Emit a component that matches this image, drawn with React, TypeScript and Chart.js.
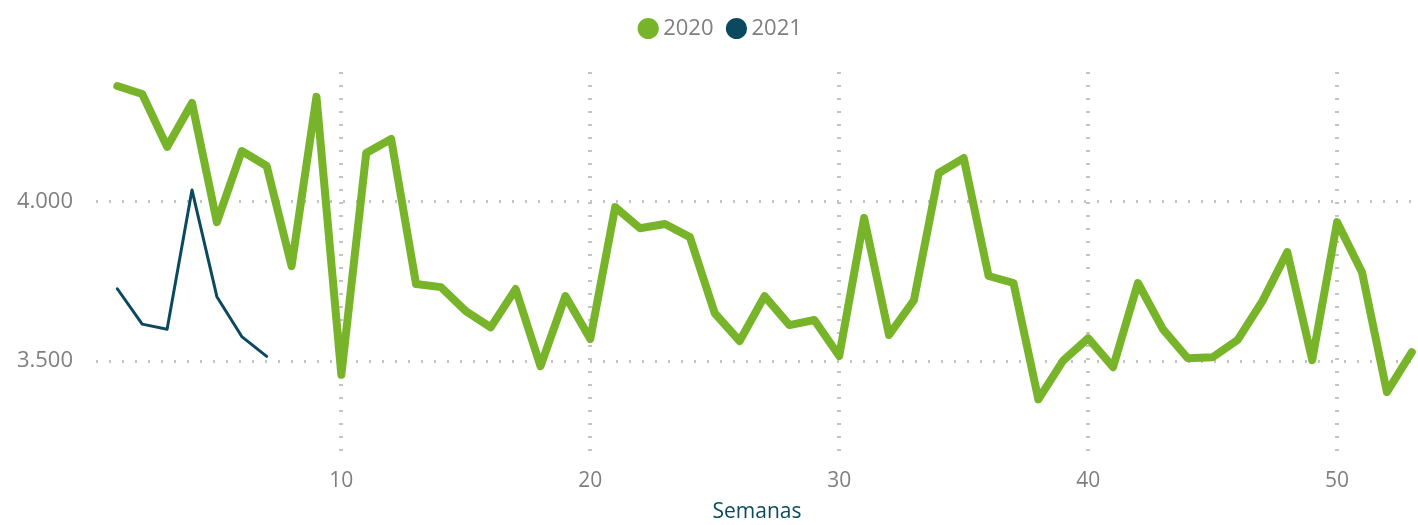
import { useEffect, useRef } from "react";
import { Chart, registerables } from "chart.js";

Chart.register(...registerables);

const seriesNames = ["2020", "2021"];
const weeks2020 = [
  1, 2, 3, 4, 5, 6, 7, 8, 9, 10, 11, 12, 13, 14, 15, 16, 17, 18, 19, 20,
  21, 22, 23, 24, 25, 26, 27, 28, 29, 30, 31, 32, 33, 34, 35, 36, 37, 38, 39, 40,
  41, 42, 43, 44, 45, 46, 47, 48, 49, 50, 51, 52, 53,
];
const values2020 = [
  4363, 4338, 4172, 4310, 3936, 4159, 4112, 3798, 4329, 3457,
  4153, 4197, 3742, 3732, 3657, 3606, 3726, 3484, 3704, 3569,
  3983, 3917, 3930, 3889, 3650, 3563, 3704, 3613, 3629, 3516,
  3949, 3582, 3691, 4090, 4137, 3767, 3745, 3380, 3502, 3572,
  3481, 3745, 3600, 3509, 3512, 3566, 3688, 3842, 3503, 3936,
  3779, 3403, 3528,
];
const weeks2021 = [1, 2, 3, 4, 5, 6, 7];
const values2021 = [3727, 3616, 3600, 4037, 3702, 3577, 3515];
const xTickValues = [10, 20, 30, 40, 50];
const yTickValues = [3500, 4000];
const xTitle = "Semanas";

const GREEN = "#78b42a";
const DARK = "#0b4a5e";
const GRAY_TEXT = "#7f7f7f";
const GRID = "#c4c4c4";
const FONT = "'Open Sans', 'Noto Sans', sans-serif";

const fmt = (v: number) => String(v).replace(/\B(?=(\d{3})+(?!\d))/g, ".");

const legendTweaks = {
  id: "legendTweaks",
  beforeUpdate(chart: any) {
    const lg = chart.legend;
    if (lg && !lg.__patched) {
      const origFit = lg.fit;
      lg.fit = function () {
        origFit.call(this);
        this.height += 24;
      };
      const origDraw = lg.draw;
      lg.draw = function (...args: any[]) {
        const ctx = this.ctx;
        ctx.save();
        ctx.translate(14, 1.5);
        origDraw.apply(this, args);
        ctx.restore();
      };
      lg.__patched = true;
    }
  },
};

export default function App() {
  const ref = useRef<HTMLCanvasElement | null>(null);
  useEffect(() => {
    if (!ref.current) return;
    const chart = new Chart(ref.current, {
      type: "line",
      data: {
        datasets: [
          {
            label: seriesNames[0],
            data: weeks2020.map((w, i) => ({ x: w, y: values2020[i] })),
            borderColor: GREEN,
            backgroundColor: GREEN,
            borderWidth: 8,
            pointRadius: 0,
            pointStyle: "circle",
            tension: 0,
            borderCapStyle: "round",
            borderJoinStyle: "round",
          },
          {
            label: seriesNames[1],
            data: weeks2021.map((w, i) => ({ x: w, y: values2021[i] })),
            borderColor: DARK,
            backgroundColor: DARK,
            borderWidth: 3,
            pointRadius: 0,
            pointStyle: "circle",
            tension: 0,
            borderCapStyle: "round",
            borderJoinStyle: "round",
          },
        ],
      },
      options: {
        responsive: false,
        animation: false,
        layout: { padding: { top: -3, left: 0, right: 0, bottom: 0 } },
        plugins: {
          tooltip: { enabled: false },
          legend: {
            position: "top",
            align: "center",
            labels: {
              usePointStyle: true,
              boxWidth: 8,
              boxHeight: 15,
              padding: 19,
              color: GRAY_TEXT,
              font: { family: FONT, size: 22 },
              generateLabels: (c: any) =>
                (Chart as any).defaults.plugins.legend.labels
                  .generateLabels(c)
                  .map((l: any) => ({ ...l, lineWidth: 0 })),
            },
          },
        },
        scales: {
          x: {
            type: "linear",
            min: 0.144,
            max: 53.25,
            afterFit: (s: any) => {
              s.height = 67;
            },
            afterBuildTicks: (s: any) => {
              s.ticks = xTickValues.map((v) => ({ value: v }));
            },
            ticks: {
              color: GRAY_TEXT,
              font: { family: FONT, size: 21 },
              padding: 10,
              maxRotation: 0,
              autoSkip: false,
            },
            grid: {
              color: GRID,
              lineWidth: 4,
              drawTicks: false,
            },
            border: { display: false, dash: [2, 11] },
            title: {
              display: true,
              text: xTitle,
              color: DARK,
              font: { family: FONT, size: 21 },
              padding: { top: 0, bottom: 0 },
            },
          },
          y: {
            type: "linear",
            min: 3196,
            max: 4407,
            afterFit: (s: any) => {
              s.width = 96;
            },
            afterBuildTicks: (s: any) => {
              s.ticks = yTickValues.map((v) => ({ value: v }));
            },
            ticks: {
              color: GRAY_TEXT,
              font: { family: FONT, size: 22 },
              padding: 23,
              callback: (v: any) => fmt(Number(v)),
            },
            grid: {
              color: GRID,
              lineWidth: 3,
              drawTicks: false,
            },
            border: { display: false, dash: [2, 11] },
          },
        },
      },
      plugins: [legendTweaks],
    } as any);
    return () => chart.destroy();
  }, []);
  return (
    <div style={{ position: "fixed", left: 0, top: 0, width: 1418, height: 525, background: "#fff" }}>
      <canvas ref={ref} width={1418} height={525} style={{ display: "block" }} />
    </div>
  );
}
